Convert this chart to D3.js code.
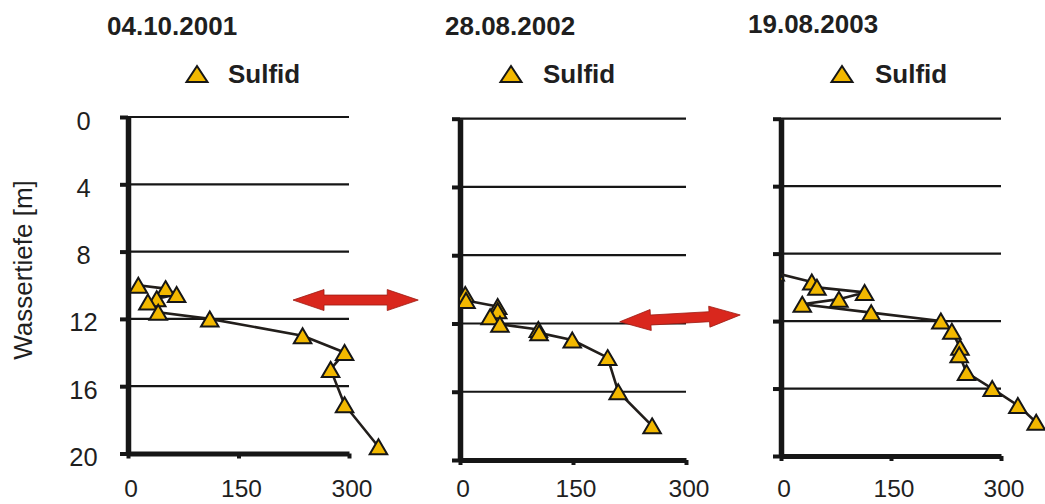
<!DOCTYPE html>
<html>
<head>
<meta charset="utf-8">
<script src="https://cdn.jsdelivr.net/npm/d3@7"></script>
<style>
  html, body { margin: 0; padding: 0; background: #fff; }
  svg { display: block; }
  text { font-family: "Liberation Sans", Arial, Helvetica, sans-serif; fill: #1f1f1f; }
</style>
</head>
<body>
<svg id="chart" width="1045" height="504"></svg>
<script>
// ---- data -------------------------------------------------------------
const dates = ["04.10.2001", "28.08.2002", "19.08.2003"];
const seriesName = "Sulfid";
const depthTitle = "Wassertiefe [m]";
const depthTicks = [0, 4, 8, 12, 16, 20];
const sulfidTicks = [0, 150, 300];

const sulfid2001 = [14, 51, 66, 39, 27, 41, 111, 237, 294, 275, 294, 340];
const depth2001  = [10.0, 10.2, 10.55, 10.8, 11.0, 11.6, 12.0, 13.0, 14.0, 15.0, 17.1, 19.6];

const sulfid2002 = [7, 8, 50, 50, 40, 53, 104, 105, 149, 196, 210, 255];
const depth2002  = [10.3, 10.65, 11.0, 11.25, 11.6, 12.05, 12.35, 12.55, 12.97, 14.0, 16.0, 18.0];

const sulfid2003 = [-8, 42, 49, 114, 79, 29, 123, 218, 233, 244, 243, 253, 288, 323, 348];
const depth2003  = [9.15, 9.68, 10.0, 10.3, 10.7, 11.0, 11.5, 12.0, 12.6, 13.55, 14.0, 15.05, 16.0, 17.0, 18.0];

// double arrows marking the shift of the sulfide front: [panel, sulfid, depth] of each tip
const arrowStart = [[0, 224, 10.88], [1, 212, 11.9]];
const arrowEnd   = [[0, 394, 10.88], [1, 372, 11.5]];

// ---- layout -----------------------------------------------------------
const panels = [
  { sulfid: sulfid2001, depth: depth2001, left: 128, right: 349, top: 117,   bottom: 453.5,
    titleX: 107, titleY: 35, legX: 197, legTextX: 228 },
  { sulfid: sulfid2002, depth: depth2002, left: 460, right: 686, top: 118.7, bottom: 460,
    titleX: 445, titleY: 35, legX: 511, legTextX: 543 },
  { sulfid: sulfid2003, depth: depth2003, left: 781, right: 1001, top: 118.7, bottom: 456,
    titleX: 748, titleY: 33, legX: 842, legTextX: 875 }
];

const ink = "#161616";
const gold = "#f2b800";
const svg = d3.select("#chart");
svg.append("rect").attr("width", 1045).attr("height", 504).attr("fill", "#fff");

function triangle(w, h) {
  return `M0,${-h / 2}L${w / 2},${h / 2}L${-w / 2},${h / 2}Z`;
}

panels.forEach((p, i) => {
  p.x = d3.scaleLinear().domain([0, 300]).range([p.left, p.right]);
  p.y = d3.scaleLinear().domain([0, 20]).range([p.top, p.bottom]);
  const g = svg.append("g");

  // title and legend
  g.append("text").attr("x", p.titleX).attr("y", p.titleY)
    .attr("font-size", 26).attr("font-weight", "bold").text(dates[i]);
  g.append("path").attr("d", triangle(21, 16))
    .attr("transform", `translate(${p.legX},74)`)
    .attr("fill", gold).attr("stroke", ink).attr("stroke-width", 2);
  g.append("text").attr("x", p.legTextX).attr("y", 83)
    .attr("font-size", 26).attr("font-weight", "bold").text(seriesName);

  // horizontal gridlines
  g.append("g").selectAll("line").data(depthTicks.filter(d => d < 20)).join("line")
    .attr("x1", p.left).attr("x2", p.right)
    .attr("y1", d => p.y(d)).attr("y2", d => p.y(d))
    .attr("stroke", ink).attr("stroke-width", 2.2);

  // depth axis
  const ya = g.append("g").attr("transform", `translate(${p.left},0)`)
    .call(d3.axisLeft(p.y).tickValues(depthTicks).tickSize(8).tickSizeOuter(0).tickFormat(""));
  ya.select(".domain").attr("stroke", ink).attr("stroke-width", 5.5);
  ya.selectAll(".tick line").attr("stroke", ink).attr("stroke-width", 4);

  // sulfide axis
  const xa = g.append("g").attr("transform", `translate(0,${p.bottom})`)
    .call(d3.axisBottom(p.x).tickValues(sulfidTicks).tickSize(5).tickSizeOuter(0).tickFormat(""));
  xa.select(".domain").attr("stroke", ink).attr("stroke-width", 5);
  xa.selectAll(".tick line").attr("stroke", ink).attr("stroke-width", 4);

  g.append("g").selectAll("text").data(sulfidTicks).join("text")
    .attr("x", d => p.x(d) + 3).attr("y", 497)
    .attr("text-anchor", "middle").attr("font-size", 24.5).text(d => d);

  if (i === 0) {
    g.append("g").selectAll("text").data(depthTicks).join("text")
      .attr("x", 83.5).attr("y", d => p.y(d) + 12.5)
      .attr("text-anchor", "middle").attr("font-size", 25.5).text(d => d);
    g.append("text")
      .attr("transform", "translate(32,270) rotate(-90)")
      .attr("text-anchor", "middle").attr("font-size", 26).text(depthTitle);
  }

  // profile line and markers, kept right of the depth axis
  const clipId = "clip" + i;
  svg.append("clipPath").attr("id", clipId).append("rect")
    .attr("x", p.x(0)).attr("y", 0).attr("width", 1045 - p.x(0)).attr("height", 504);
  const pts = p.sulfid.map((v, k) => [v, p.depth[k]]);
  const sg = g.append("g").attr("clip-path", `url(#${clipId})`);
  sg.append("path").datum(pts)
    .attr("d", d3.line().x(d => p.x(d[0])).y(d => p.y(d[1])))
    .attr("fill", "none").attr("stroke", "#221e1b").attr("stroke-width", 2.6)
    .attr("stroke-linejoin", "round");
  sg.selectAll(".m").data(pts).join("path").attr("class", "m")
    .attr("d", triangle(17.5, 15))
    .attr("transform", d => `translate(${p.x(d[0])},${p.y(d[1])})`)
    .attr("fill", gold).attr("stroke", ink).attr("stroke-width", 2)
    .attr("stroke-linejoin", "miter");
});

// double-headed arrows
function doubleArrow(a, b, headLen, headHalf, shaftHalf) {
  const dx = b[0] - a[0], dy = b[1] - a[1];
  const L = Math.hypot(dx, dy);
  const ux = dx / L, uy = dy / L, nx = -uy, ny = ux;
  const P = (base, s, t) => [base[0] + ux * s + nx * t, base[1] + uy * s + ny * t];
  const pts = [
    a, P(a, headLen, -headHalf), P(a, headLen, -shaftHalf),
    P(b, -headLen, -shaftHalf), P(b, -headLen, -headHalf), b,
    P(b, -headLen, headHalf), P(b, -headLen, shaftHalf),
    P(a, headLen, shaftHalf), P(a, headLen, headHalf)
  ];
  return "M" + pts.map(q => q.join(",")).join("L") + "Z";
}

arrowStart.forEach((s, k) => {
  const e = arrowEnd[k];
  const ps = panels[s[0]], pe = panels[e[0]];
  const a = [ps.x(s[1]), ps.y(s[2])];
  const b = [pe.x(e[1]), pe.y(e[2])];
  svg.append("path").attr("d", doubleArrow(a, b, 31, 10.5, 5))
    .attr("fill", "#d9271d").attr("stroke", "#9c1a12").attr("stroke-width", 0.8)
    .attr("stroke-linejoin", "miter");
});
</script>
</body>
</html>
